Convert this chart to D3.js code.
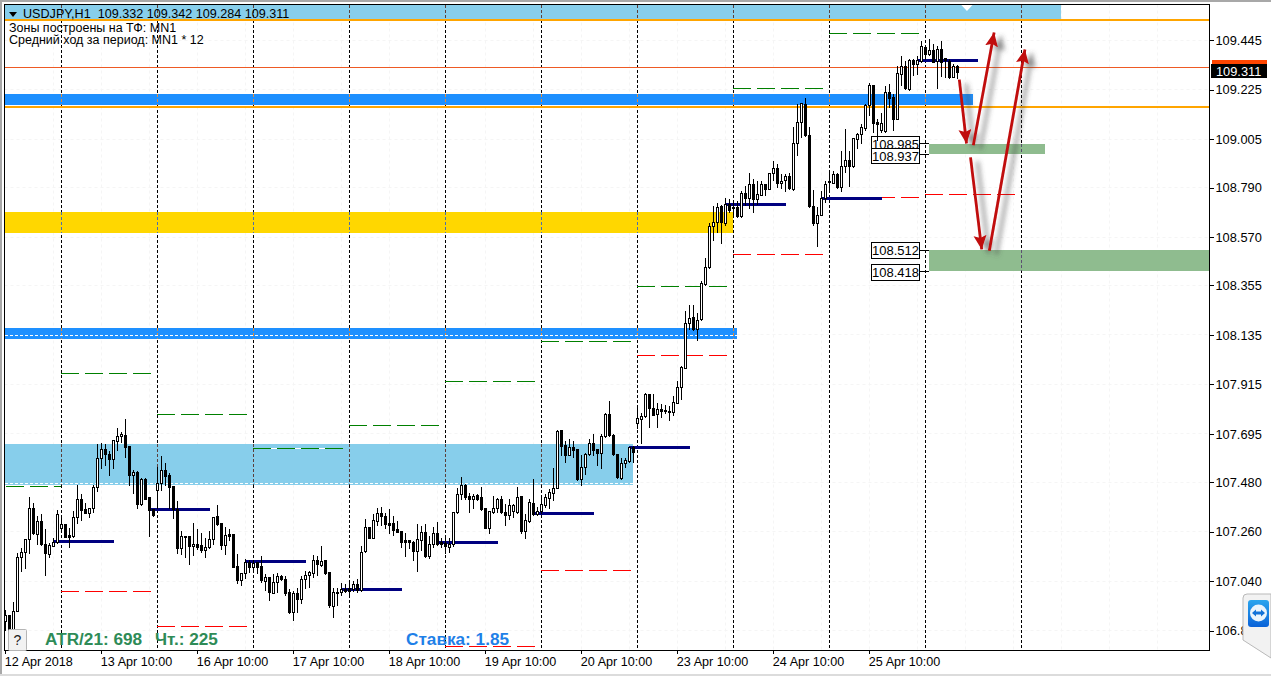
<!DOCTYPE html>
<html><head><meta charset="utf-8">
<script src="https://cdn.jsdelivr.net/npm/d3@7"></script>
<style>
html,body{margin:0;padding:0;background:#fff;overflow:hidden}
svg{display:block}
text{font-family:"Liberation Sans",Arial,sans-serif}
</style></head><body>
<div id="chart"></div>
<script>
const opens=[106.864,106.889,106.813,106.906,107.146,107.169,107.226,107.364,107.252,107.308,
107.208,107.161,107.198,107.216,107.275,107.293,107.246,107.241,107.324,107.408,
107.360,107.345,107.364,107.460,107.590,107.630,107.604,107.582,107.664,107.685,
107.691,107.641,107.511,107.524,107.383,107.494,107.413,107.360,107.448,107.478,
107.534,107.511,107.463,107.362,107.188,107.243,107.241,107.198,107.208,107.201,
107.179,107.192,107.226,107.330,107.297,107.201,107.249,107.249,107.108,107.046,
107.075,107.127,107.105,107.127,107.108,107.043,107.058,106.990,107.035,107.064,
107.049,106.994,106.905,106.990,106.960,107.049,107.068,107.078,107.135,107.112,
107.135,107.080,106.930,106.994,106.994,107.007,107.009,107.004,107.028,107.001,
107.176,107.283,107.234,107.309,107.342,107.330,107.297,107.297,107.271,107.263,
107.223,107.223,107.213,107.176,107.223,107.257,107.152,107.208,107.253,107.213,
107.209,107.194,107.206,107.348,107.426,107.468,107.419,107.404,107.423,107.413,
107.368,107.278,107.349,107.364,107.405,107.349,107.334,107.354,107.349,107.419,
107.265,107.309,107.389,107.339,107.352,107.379,107.411,107.434,107.453,107.712,
107.645,107.601,107.635,107.626,107.494,107.546,107.608,107.653,107.626,107.611,
107.685,107.783,107.690,107.605,107.500,107.568,107.576,107.635,107.743,107.760,
107.775,107.873,107.812,107.783,107.805,107.802,107.799,107.793,107.834,107.902,
107.988,108.190,108.213,108.160,108.204,108.361,108.435,108.619,108.638,108.708,
108.631,108.716,108.705,108.705,108.663,108.767,108.742,108.804,108.739,108.759,
108.804,108.783,108.853,108.879,108.812,108.822,108.843,108.784,108.990,109.080,
109.161,109.024,108.708,108.634,108.668,108.742,108.819,108.812,108.850,108.791,
108.886,108.913,108.886,109.007,109.028,109.053,109.157,109.246,109.080,109.046,
109.041,109.213,109.194,109.095,109.294,109.330,109.226,109.357,109.339,109.354,
109.413,109.383,109.401,109.354,109.404,109.364,109.354,109.283,109.330];
const closes=[106.889,106.811,106.907,107.146,107.169,107.226,107.364,107.256,107.308,107.205,
107.164,107.201,107.216,107.337,107.293,107.238,107.238,107.324,107.408,107.357,
107.345,107.364,107.457,107.590,107.630,107.604,107.582,107.667,107.685,107.694,
107.638,107.511,107.524,107.383,107.494,107.408,107.357,107.334,107.475,107.534,
107.508,107.457,107.360,107.188,107.241,107.238,107.198,107.208,107.194,107.179,
107.192,107.226,107.324,107.294,107.201,107.246,107.243,107.105,107.046,107.078,
107.127,107.102,107.123,107.102,107.046,107.058,106.994,107.038,107.064,107.049,
106.990,106.905,106.990,106.960,107.049,107.068,107.080,107.135,107.117,107.132,
107.075,106.935,106.991,106.987,107.004,106.995,106.995,107.028,107.001,107.172,
107.280,107.234,107.312,107.342,107.331,107.293,107.291,107.268,107.260,107.216,
107.216,107.216,107.176,107.226,107.257,107.154,107.208,107.253,107.208,107.206,
107.198,107.206,107.348,107.426,107.468,107.413,107.404,107.420,107.408,107.360,
107.278,107.352,107.364,107.405,107.346,107.334,107.377,107.377,107.416,107.265,
107.312,107.391,107.339,107.354,107.382,107.413,107.435,107.453,107.709,107.642,
107.601,107.635,107.623,107.494,107.546,107.608,107.653,107.623,107.611,107.685,
107.783,107.690,107.605,107.502,107.568,107.579,107.635,107.616,107.765,107.775,
107.873,107.812,107.780,107.805,107.799,107.797,107.793,107.837,107.905,107.991,
108.190,108.209,108.160,108.201,108.364,108.435,108.619,108.638,108.705,108.638,
108.715,108.690,108.697,108.663,108.764,108.742,108.804,108.739,108.761,108.804,
108.783,108.856,108.879,108.811,108.821,108.843,108.787,108.990,109.080,109.164,
109.024,108.708,108.634,108.668,108.742,108.805,108.813,108.850,108.794,108.886,
108.913,108.887,109.009,109.028,109.058,109.157,109.246,109.078,109.074,109.075,
109.213,109.189,109.095,109.297,109.330,109.231,109.357,109.339,109.357,109.419,
109.383,109.401,109.349,109.404,109.349,109.357,109.280,109.330,109.305];
const highs=[106.915,106.889,106.952,107.171,107.194,107.231,107.419,107.394,107.334,107.342,
107.275,107.216,107.238,107.360,107.334,107.297,107.283,107.357,107.472,107.431,
107.394,107.371,107.472,107.653,107.660,107.653,107.623,107.670,107.727,107.709,
107.768,107.641,107.537,107.534,107.502,107.502,107.413,107.368,107.552,107.601,
107.571,107.527,107.463,107.401,107.268,107.246,107.246,107.305,107.275,107.260,
107.235,107.268,107.327,107.383,107.305,107.286,107.275,107.249,107.164,107.078,
107.142,107.138,107.138,107.130,107.157,107.078,107.061,107.078,107.083,107.072,
107.068,107.009,107.001,107.016,107.068,107.090,107.090,107.161,107.157,107.201,
107.135,107.083,107.016,107.016,107.038,107.031,107.038,107.046,107.053,107.201,
107.320,107.286,107.342,107.371,107.374,107.349,107.368,107.334,107.312,107.265,
107.260,107.226,107.223,107.297,107.290,107.297,107.246,107.286,107.309,107.238,
107.241,107.238,107.349,107.457,107.508,107.475,107.438,107.431,107.431,107.463,
107.371,107.357,107.423,107.416,107.423,107.386,107.411,107.386,107.463,107.423,
107.345,107.411,107.497,107.374,107.419,107.431,107.453,107.549,107.719,107.719,
107.667,107.675,107.667,107.626,107.608,107.616,107.675,107.697,107.630,107.697,
107.793,107.845,107.697,107.608,107.593,107.593,107.638,107.645,107.817,107.794,
107.883,107.876,107.876,107.839,107.834,107.828,107.824,107.868,107.935,108.002,
108.246,108.271,108.272,108.238,108.379,108.483,108.638,108.712,108.727,108.719,
108.746,108.742,108.734,108.734,108.779,108.801,108.857,108.833,108.823,108.823,
108.808,108.860,108.912,108.897,108.853,108.853,108.861,109.064,109.164,109.172,
109.191,109.064,108.782,108.708,108.779,108.824,108.868,108.868,108.861,108.957,
109.053,108.957,109.016,109.038,109.075,109.164,109.260,109.246,109.098,109.127,
109.246,109.253,109.209,109.334,109.379,109.357,109.368,109.368,109.379,109.445,
109.416,109.457,109.431,109.423,109.448,109.371,109.368,109.345,109.339];
const lows=[106.823,106.808,106.808,106.906,107.087,107.098,107.164,107.252,107.208,107.201,
107.068,107.149,107.198,107.212,107.260,107.235,107.194,107.238,107.297,107.312,
107.342,107.324,107.349,107.442,107.542,107.556,107.512,107.542,107.623,107.660,
107.593,107.468,107.431,107.368,107.379,107.405,107.243,107.330,107.364,107.445,
107.468,107.364,107.320,107.164,107.161,107.149,107.117,107.157,107.183,107.172,
107.149,107.186,107.208,107.290,107.182,107.161,107.223,107.102,107.031,107.024,
107.053,107.083,107.083,107.075,107.038,107.001,106.957,106.987,106.994,107.046,
106.979,106.898,106.868,106.905,106.942,107.009,107.013,107.061,107.068,107.109,
107.072,106.924,106.883,106.935,106.979,106.994,106.979,106.998,106.994,106.998,
107.172,107.231,107.231,107.290,107.290,107.275,107.253,107.246,107.257,107.191,
107.152,107.186,107.135,107.086,107.179,107.149,107.142,107.194,107.201,107.194,
107.167,107.172,107.198,107.345,107.408,107.404,107.349,107.364,107.401,107.357,
107.275,107.253,107.342,107.349,107.342,107.290,107.315,107.324,107.345,107.253,
107.234,107.305,107.334,107.334,107.345,107.371,107.364,107.401,107.453,107.601,
107.571,107.601,107.593,107.490,107.468,107.519,107.601,107.601,107.556,107.542,
107.682,107.685,107.601,107.497,107.493,107.549,107.571,107.571,107.720,107.654,
107.772,107.725,107.780,107.728,107.772,107.787,107.757,107.780,107.834,107.849,
107.987,108.160,108.157,108.113,108.201,108.357,108.431,108.557,108.594,108.542,
108.623,108.682,108.660,108.660,108.660,108.712,108.697,108.682,108.716,108.756,
108.756,108.783,108.823,108.793,108.787,108.776,108.784,108.779,108.935,109.016,
109.019,108.705,108.624,108.532,108.668,108.727,108.772,108.809,108.787,108.776,
108.861,108.797,108.883,108.964,108.990,109.046,109.112,109.038,109.001,109.038,
109.038,109.149,109.046,109.093,109.246,109.226,109.223,109.290,109.294,109.349,
109.360,109.379,109.346,109.231,109.286,109.280,109.275,109.280,109.275];

const priceTicks=[109.445,109.225,109.005,108.790,108.570,108.355,108.135,107.915,107.695,107.480,107.260,107.040,106.820];
const timeTickBars=[0,24,48,72,96,120,144,168,192,216];
const timeLabels=["12 Apr 2018","13 Apr 10:00","16 Apr 10:00","17 Apr 10:00","18 Apr 10:00","19 Apr 10:00","20 Apr 10:00","23 Apr 10:00","24 Apr 10:00","25 Apr 10:00"];
const separatorBars=[14,38,62,86,110,134,158,182,206,230,254];
const headerText="USDJPY,H1  109.332 109.342 109.284 109.311";
const noteLines=["Зоны построены на ТФ: MN1","Средний ход за период: MN1 * 12"];

// zones: [kind, fromBar, toBar, priceTop, priceBottom]
const zones=[
 ["sky",-0.1,263.9,109.60,109.540],
 ["dodger",-0.1,241.9,109.205,109.156],
 ["gold",-0.1,181.9,108.681,108.587],
 ["dodger",-0.1,182.9,108.165,108.116],
 ["sky",-0.1,156.9,107.649,107.467],
 ["green",230.9,259.9,108.985,108.937],
 ["green",230.9,300.9,108.512,108.418]];
const whiteDashLevels=[[-0.1,182.9,108.132],[-0.1,156.9,107.474]];
const orangeLevels=[109.534,109.147];
const bidLevel=109.323;
const lastPrice=109.311;
const pivotStartBars=[12,36,60,84,108,132,156,180,204,228];
const pivotLevels=[107.218,107.361,107.129,107.003,107.214,107.343,107.636,108.716,108.741,109.354];
const greenStartBars=[-0.1,14,38,62,86,110,134,158,182,206];
const greenLevels=[107.463,107.965,107.783,107.629,107.734,107.929,108.107,108.352,109.229,109.474];
const greenSpan=[14.1,22.5,22.5,22.5,22.5,22.5,22.5,22.5,22.5,22.5];
const redStartBars=[14,38,110,134,158,182,206,230];
const redLevels=[106.996,106.841,106.750,107.089,108.045,108.492,108.745,108.761];
const targetLevels=[108.985,108.937,108.512,108.418];
// arrows: [fromBar, fromPrice, toBar, toPrice]
const arrowsData=[[238.5,109.270,240.3,108.986],[242,108.978,247.2,109.479],[241.3,108.924,244.1,108.515],[246,108.509,254.9,109.404]];

const W=1271,H=676;
const svg=d3.select("#chart").append("svg").attr("width",W).attr("height",H);
const x=d3.scaleLinear().domain([0,238]).range([5.33,957.33]);
const y=d3.scaleLinear().domain([109.445,106.82]).range([40.2,630.8]);
const px=v=>Math.floor(v)+0.5;
const fL=4.5,fT=4.5,fR=1209.5,fB=650.5;

// window chrome
svg.append("rect").attr("width",W).attr("height",2).attr("fill","#a8a8a8");
svg.append("rect").attr("width",2).attr("height",H).attr("fill","#a8a8a8");
svg.append("rect").attr("y",674).attr("width",W).attr("height",2).attr("fill","#dcdcdc");

// faint grid
const grid=svg.append("g").attr("stroke","#f5f5f5").attr("stroke-dasharray","3 3");
priceTicks.forEach(p=>grid.append("line").attr("x1",fL).attr("x2",fR).attr("y1",px(y(p))).attr("y2",px(y(p))));
d3.range(12,300,12).forEach(b=>grid.append("line").attr("x1",px(x(b))).attr("x2",px(x(b))).attr("y1",fT).attr("y2",fB));

// separators
const sepG=svg.append("g").attr("shape-rendering","crispEdges");
separatorBars.forEach(b=>sepG.append("line").attr("x1",px(x(b))).attr("x2",px(x(b))).attr("y1",fT).attr("y2",fB)
  .attr("stroke","#000").attr("stroke-width",1.2).attr("stroke-dasharray","3 2"));

// zones
const zoneColor={sky:"#87CEEB",dodger:"#1E90FF",gold:"#FFD700",green:"#8FBC8F"};
const sepInZone={sky:"#5b3f3a",dodger:"#e08a3c",gold:"#4a6fb0",green:"#5b5070"};
const zoneG=svg.append("g").attr("shape-rendering","crispEdges");
zones.forEach(([k,a,b,pt,pb])=>{
  const top=Math.max(5,Math.round(y(pt))),bot=Math.round(y(pb));
  zoneG.append("rect").attr("x",x(a)).attr("width",x(b)-x(a)).attr("y",top).attr("height",bot-top).attr("fill",zoneColor[k]);
  separatorBars.filter(s=>x(s)>x(a)&&x(s)<x(b)).forEach(s=>zoneG.append("line")
    .attr("x1",px(x(s))).attr("x2",px(x(s))).attr("y1",top).attr("y2",bot)
    .attr("stroke",sepInZone[k]).attr("stroke-dasharray","3 2"));
});
whiteDashLevels.forEach(([a,b,p])=>zoneG.append("line").attr("x1",x(a)).attr("x2",x(b)).attr("y1",px(y(p))).attr("y2",px(y(p)))
  .attr("stroke","#fff").attr("stroke-dasharray","3 2"));

// white marker in the top strip
svg.append("path").attr("d",`M${x(239)},5 L${x(241.8)},5 L${x(240.4)},11 Z`).attr("fill","#fff");

// orange levels
orangeLevels.forEach(p=>svg.append("line").attr("x1",fL).attr("x2",fR).attr("y1",Math.round(y(p))).attr("y2",Math.round(y(p)))
  .attr("stroke","#FFA500").attr("stroke-width",2).attr("shape-rendering","crispEdges"));

// dashed day levels
const dashed=(starts,levels,color,spans,backed)=>starts.forEach((s,i)=>{
  const yy=px(y(levels[i]));
  const span=spans?spans[i]:22.5;
  const x0=Math.max(x(s),fL+1);
  const g=svg.append("g").attr("shape-rendering","crispEdges");
  if(backed===i) g.append("line").attr("x1",x0).attr("x2",x(s+span)).attr("y1",yy).attr("y2",yy).attr("stroke","#fff");
  g.append("line").attr("x1",x0).attr("x2",x(s+span)).attr("y1",yy).attr("y2",yy).attr("stroke",color).attr("stroke-dasharray","18 6");
});
dashed(greenStartBars,greenLevels,"#008000",greenSpan,3);
dashed(redStartBars,redLevels,"#FF0000");

// target labels (behind candles)
const boxG=svg.append("g");
const boxTop=[136.5,148.5,242.5,264.5],boxH=[15,15,16,16];
targetLevels.forEach((p,i)=>{
  const yy=px(y(p));
  boxG.append("line").attr("x1",919.5).attr("x2",929).attr("y1",yy).attr("y2",yy).attr("stroke","#000").attr("shape-rendering","crispEdges");
  boxG.append("rect").attr("x",871.5).attr("y",boxTop[i]).attr("width",48).attr("height",boxH[i]).attr("fill","#fff").attr("stroke","#000").attr("shape-rendering","crispEdges");
  boxG.append("text").attr("x",895.5).attr("y",boxTop[i]+12.5).attr("text-anchor","middle").attr("font-size",13).attr("fill","#000").text(d3.format(".3f")(p));
});

// pivot lines
pivotStartBars.forEach((s,i)=>svg.append("line").attr("x1",x(s)).attr("x2",x(s+15.25)).attr("y1",y(pivotLevels[i])).attr("y2",y(pivotLevels[i]))
  .attr("stroke","#000080").attr("stroke-width",3).attr("shape-rendering","crispEdges"));

// current price line
svg.append("line").attr("x1",fL).attr("x2",fR).attr("y1",px(y(bidLevel))).attr("y2",px(y(bidLevel))).attr("stroke","#ee5a24").attr("shape-rendering","crispEdges");

// candles
const bars=d3.range(opens.length);
const cG=svg.append("g").attr("shape-rendering","crispEdges");
cG.selectAll("line").data(bars).join("line")
  .attr("x1",i=>px(x(i))).attr("x2",i=>px(x(i))).attr("y1",i=>Math.round(y(highs[i]))+.5).attr("y2",i=>Math.round(y(lows[i]))+.5)
  .attr("stroke","#000");
cG.selectAll("rect").data(bars).join("rect")
  .attr("x",i=>px(x(i))-1).attr("width",2)
  .attr("y",i=>Math.round(y(Math.max(opens[i],closes[i])))+.5)
  .attr("height",i=>Math.max(1,Math.round(y(Math.min(opens[i],closes[i])))-Math.round(y(Math.max(opens[i],closes[i])))))
  .attr("fill",i=>closes[i]>=opens[i]?"#fff":"#000").attr("stroke","#000");

// frame and axes
svg.append("path").attr("d",`M${fL},${fB}V${fT}H${fR}V${fB}H${fL}`).attr("fill","none").attr("stroke","#000").attr("shape-rendering","crispEdges");
const yAxis=d3.axisRight(y).tickValues(priceTicks).tickFormat(d3.format(".3f")).tickSize(4).tickPadding(2);
const ya=svg.append("g").attr("transform",`translate(${fR},0)`).call(yAxis);
ya.select(".domain").remove();
ya.selectAll("text").attr("font-size",12.8).attr("font-family",'"Liberation Sans",Arial,sans-serif').attr("fill","#000");
ya.selectAll("line").attr("stroke","#000").attr("shape-rendering","crispEdges");
const xAxis=d3.axisBottom(x).tickValues(timeTickBars).tickFormat((d,i)=>timeLabels[i]).tickSize(3).tickPadding(4);
const xa=svg.append("g").attr("transform",`translate(0,${fB})`).call(xAxis);
xa.select(".domain").remove();
xa.selectAll("text").attr("font-size",12.6).attr("font-family",'"Liberation Sans",Arial,sans-serif').attr("fill","#000").attr("text-anchor","start").attr("dx",-1);
xa.selectAll("line").attr("stroke","#000").attr("shape-rendering","crispEdges");

// price labels
svg.append("rect").attr("x",1212).attr("y",60).attr("width",55).attr("height",5).attr("fill","#FF4500");
svg.append("rect").attr("x",1211).attr("y",64).attr("width",56).attr("height",14).attr("fill","#000");
svg.append("text").attr("x",1216).attr("y",75.5).attr("font-size",12.8).attr("fill","#fff").text(d3.format(".3f")(lastPrice));

// header
svg.append("path").attr("d","M9,12 H17 L13,17 Z").attr("fill","#000");
svg.append("text").attr("x",23).attr("y",18).attr("font-size",12.6).attr("xml:space","preserve").attr("fill","#000").text(headerText);
noteLines.forEach((t,i)=>svg.append("text").attr("x",9).attr("y",32+i*12).attr("font-size",12.5).attr("fill","#000").text(t));

// info texts
svg.append("text").attr("x",45).attr("y",645).attr("font-size",17.2).attr("font-weight","bold").attr("fill","#2E8B57").text("ATR/21: 698");
svg.append("text").attr("x",155).attr("y",645).attr("font-size",17.2).attr("font-weight","bold").attr("fill","#2E8B57").text("Чт.: 225");
svg.append("text").attr("x",406).attr("y",645).attr("font-size",17.2).attr("font-weight","bold").attr("fill","#1E80E8").text("Ставка: 1.85");

// help button
svg.append("rect").attr("x",8.5).attr("y",629.5).attr("width",18).attr("height",21).attr("rx",1).attr("fill","#f2f2f2").attr("stroke","#b5b5b5");
svg.append("text").attr("x",17.5).attr("y",645).attr("text-anchor","middle").attr("font-size",14).attr("fill","#222").text("?");

// arrows
const defs=svg.append("defs");
const mk=defs.append("marker").attr("id","head").attr("markerUnits","userSpaceOnUse").attr("markerWidth",15).attr("markerHeight",14)
  .attr("refX",14).attr("refY",6.5).attr("orient","auto");
mk.append("path").attr("d","M0,0 L14,6.5 L0,13 L2.5,6.5 Z").attr("fill","#C00A0A");
const flt=defs.append("filter").attr("id","shadow").attr("x","-80%").attr("y","-20%").attr("width","280%").attr("height","140%");
flt.append("feDropShadow").attr("dx",7).attr("dy",4).attr("stdDeviation",2.8).attr("flood-color","#444").attr("flood-opacity",0.65);
const arrowG=svg.append("g").attr("filter","url(#shadow)");
arrowsData.forEach(([a,pa,b,pb])=>arrowG.append("line").attr("x1",x(a)).attr("y1",y(pa)).attr("x2",x(b)).attr("y2",y(pb))
  .attr("stroke","#C00A0A").attr("stroke-width",2.8).attr("marker-end","url(#head)"));

// remote-control side tab
svg.append("path").attr("d","M1271,594 H1247 Q1243,594 1243,598 V640 L1271,658 Z").attr("fill","#f2f2f2").attr("stroke","#b9b9b9");
const lg=defs.append("linearGradient").attr("id","tv").attr("x1",0).attr("y1",0).attr("x2",0).attr("y2",1);
lg.append("stop").attr("offset",0).attr("stop-color","#2aa5ee");
lg.append("stop").attr("offset",1).attr("stop-color","#0a62d8");
svg.append("rect").attr("x",1248).attr("y",600).attr("width",21).attr("height",27).attr("rx",3).attr("fill","url(#tv)");
svg.append("circle").attr("cx",1258.5).attr("cy",613).attr("r",8.5).attr("fill","#eaf4fc");
svg.append("path").attr("d","M1252,613 l4,-3.5 v2 h5 v-2 l4,3.5 l-4,3.5 v-2 h-5 v2 Z").attr("fill","#1272d8");
</script>
</body></html>
